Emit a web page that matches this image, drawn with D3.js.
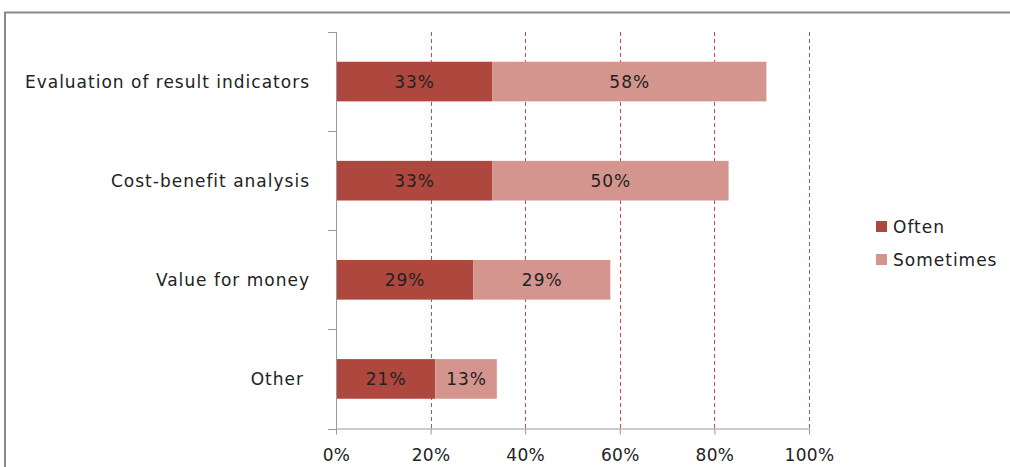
<!DOCTYPE html>
<html><head><meta charset="utf-8">
<script src="https://cdn.jsdelivr.net/npm/d3@7"></script>
<style>body{margin:0;background:#fff;}svg{display:block;}</style>
</head><body>
<svg id="c" width="1010" height="467"></svg>
<script>
const categories = ["Evaluation of result indicators", "Cost-benefit analysis", "Value for money", "Other"];
const often = [33, 33, 29, 21];
const sometimes = [58, 50, 29, 13];
const seriesNames = ["Often", "Sometimes"];
const xTicks = [0, 20, 40, 60, 80, 100];
const colors = ["#AE473D", "#D4958E"];

const svg = d3.select("#c");
const font = "'DejaVu Sans', sans-serif";
// frame
svg.append("path").attr("d", "M5,467 V12.5 H1010").attr("fill", "none").attr("stroke", "#8a8a8a").attr("stroke-width", 2);

const L = 336, R = 809, T = 32, B = 428.5;
const x = d3.scaleLinear().domain([0, 100]).range([L, R]);
const y = d3.scaleBand().domain(categories).range([T, B]).paddingInner(0.6).paddingOuter(0.3);

// gridlines
svg.append("g").selectAll("line").data(xTicks.slice(1)).join("line")
  .attr("x1", d => Math.round(x(d)) + 0.5).attr("x2", d => Math.round(x(d)) + 0.5)
  .attr("y1", T).attr("y2", B)
  .attr("stroke", "#CC4A46").attr("stroke-width", 1).attr("stroke-dasharray", "4,3");

const data = categories.map((c, i) => ({c, v: [often[i], sometimes[i]]}));
const g = svg.append("g");
data.forEach(d => {
  let acc = 0;
  d.v.forEach((v, j) => {
    g.append("rect").attr("x", x(acc)).attr("width", x(acc + v) - x(acc))
      .attr("y", y(d.c)).attr("height", y.bandwidth()).attr("fill", colors[j]);
    g.append("text").attr("x", (x(acc) + x(acc + v)) / 2 + 0.5).attr("y", y(d.c) + y.bandwidth() / 2)
      .attr("dy", "0.36em").attr("text-anchor", "middle").attr("font-family", font)
      .attr("font-size", 17).attr("letter-spacing", 1).attr("fill", "#222").text(v + "%");
    acc += v;
  });
});

// x axis
const xAxis = d3.axisBottom(x).tickValues(xTicks).tickFormat(d => d + "%").tickSize(6).tickPadding(14);
const xg = svg.append("g").attr("transform", `translate(0,${B})`).call(xAxis);
xg.select(".domain").attr("d", `M${L},0.5H${R}`).attr("stroke", "#999");
xg.selectAll(".tick line").attr("stroke", "#999");
xg.selectAll("text").attr("font-family", font).attr("font-size", 17).attr("letter-spacing", 0.3).attr("fill", "#222");

// y axis
const bounds = [T, ...categories.map((c, i) => T + (i + 1) * (B - T) / categories.length)];
svg.append("line").attr("x1", L + 0.5).attr("x2", L + 0.5).attr("y1", T).attr("y2", B).attr("stroke", "#999");
svg.append("g").selectAll("line").data(bounds).join("line")
  .attr("x1", L - 8).attr("x2", L).attr("y1", d => Math.round(d) + 0.5).attr("y2", d => Math.round(d) + 0.5)
  .attr("stroke", "#999");
svg.append("g").selectAll("text").data(categories).join("text")
  .attr("x", d => d === "Other" ? 304 : 310).attr("y", d => y(d) + y.bandwidth() / 2).attr("dy", "0.36em")
  .attr("text-anchor", "end").attr("font-family", font).attr("font-size", 17).attr("letter-spacing", 1).attr("fill", "#222").text(d => d);

// legend
const lg = svg.append("g");
seriesNames.forEach((s, i) => {
  lg.append("rect").attr("x", 876).attr("y", 221 + i * 33).attr("width", 11).attr("height", 11).attr("fill", colors[i]);
  lg.append("text").attr("x", 893).attr("y", 226.5 + i * 33).attr("dy", "0.36em")
    .attr("font-family", font).attr("font-size", 17).attr("letter-spacing", 1).attr("fill", "#222").text(s);
});
</script>
</body></html>
